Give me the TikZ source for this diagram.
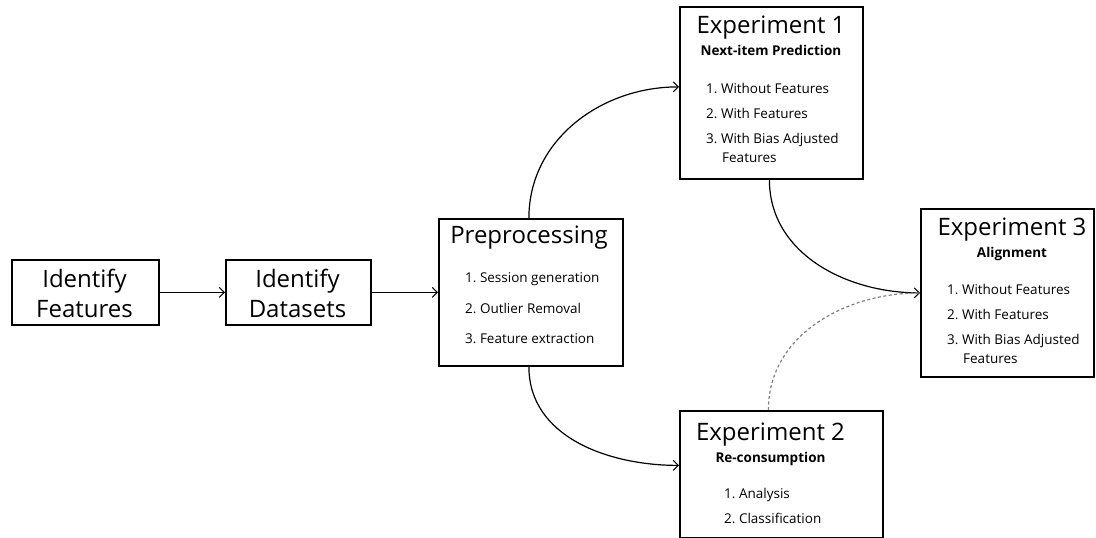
\documentclass[tikz,border=0pt]{standalone}
\usepackage{fontspec}
\setmainfont{Open Sans}
\usetikzlibrary{arrows.meta}
\begin{document}
\begin{tikzpicture}[x=1pt,y=-1pt,
  box/.style={draw,line width=1.8pt,inner sep=0pt,anchor=north west},
  big/.style={font=\fontsize{24}{30}\selectfont,inner sep=0pt},
  sub/.style={font=\fontsize{13.5}{16}\bfseries\selectfont,inner sep=0pt,anchor=base},
  item/.style={font=\fontsize{13.5}{16}\selectfont,inner sep=0pt,anchor=base west},
  tip/.style={-{Straight Barb[length=5pt,width=10pt,line width=1.1pt]}},
  conn/.style={line width=1.2pt,tip}]
\useasboundingbox (0,0) rectangle (1096,538);
% boxes
\node[box,minimum width=147pt,minimum height=65pt] (feat) at (11,259) {};
\node[box,minimum width=145pt,minimum height=65pt] (data) at (225,259) {};
\node[box,minimum width=184pt,minimum height=147pt] (pre) at (438,218) {};
\node[box,minimum width=183pt,minimum height=172pt] (e1) at (679,6) {};
\node[box,minimum width=173pt,minimum height=168pt] (e3) at (920,208) {};
\node[box,minimum width=203pt,minimum height=127pt] (e2) at (679,410) {};
% texts
\node[big,anchor=base] (t1a) at (84.5,287) {Identify};
\node[big,anchor=base] (t1b) at (84.5,317) {Features};
\node[big,anchor=base] (t2a) at (297.5,287) {Identify};
\node[big,anchor=base] (t2b) at (297.5,317) {Datasets};
\node[big,anchor=base] (tp) at (529,243) {Preprocessing};
\node[item] (p1) at (465,282.5) {1.~Session generation};
\node[item] (p2) at (465,313) {2.~Outlier Removal};
\node[item] (p3) at (465,343) {3.~Feature extraction};
\node[big,anchor=base] (te1) at (771,33) {Experiment 1};
\node[sub] (s1) at (771,56) {Next-item Prediction};
\node[item] (a1) at (706,93) {1.~Without Features};
\node[item] (a2) at (706,118) {2.~With Features};
\node[item] (a3) at (706,143) {3.~With Bias Adjusted};
\node[item] (a4) at (722,162) {Features};
\node[big,anchor=base] (te3) at (1012,235) {Experiment 3};
\node[sub] (s3) at (1012,257) {Alignment};
\node[item] (c1) at (947,294) {1.~Without Features};
\node[item] (c2) at (947,319) {2.~With Features};
\node[item] (c3) at (947,344) {3.~With Bias Adjusted};
\node[item] (c4) at (963,363) {Features};
\node[big,anchor=base] (te2) at (770.5,440) {Experiment 2};
\node[sub] (s2) at (770.5,462) {Re-consumption};
\node[item] (b1) at (724,498) {1.~Analysis};
\node[item] (b2) at (724,523) {2.~Classification};
% connectors
\draw[conn] (feat.east) -- (data.west);
\draw[conn] (data.east) -- (pre.west);
\coordinate (pt) at ([xshift=-2pt]pre.north);
\coordinate (pb) at ([xshift=-2pt]pre.south);
\coordinate (e1in) at ([yshift=6pt]e1.west);
\coordinate (e2in) at ([yshift=9pt]e2.west);
\coordinate (e1b) at ([xshift=-2pt]e1.south);
\coordinate (e2t) at ([xshift=-13pt]e2.north);
\coordinate (e3in) at (e3.west);
\draw[conn] (pt) to[out=90,in=180] (e1in);
\draw[conn] (pb) to[out=-90,in=180] (e2in);
\draw[conn] (e1b) to[out=-90,in=180] (e3in);
\draw[line width=1.2pt,gray,dash pattern=on 3pt off 2.5pt] (e2t) to[out=90,in=180] (e3in);
\end{tikzpicture}
\end{document}
